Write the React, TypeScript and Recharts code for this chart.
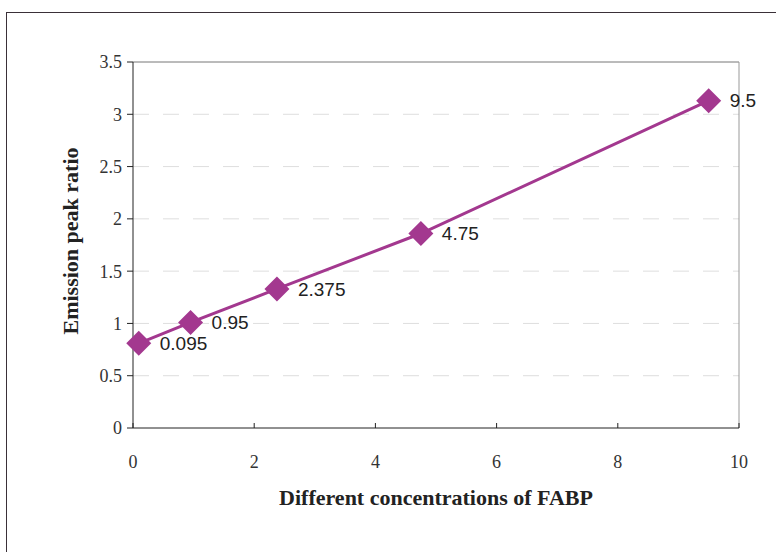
import React from "react";
import {
  LineChart,
  Line,
  XAxis,
  YAxis,
  ReferenceLine,
  LabelList,
  Label,
} from "recharts";

// FABP concentrations and the measured emission peak ratio
const concentrations = [0.095, 0.95, 2.375, 4.75, 9.5];
const peakRatios = [0.81, 1.01, 1.33, 1.86, 3.13];
const xTicks = [0, 2, 4, 6, 8, 10];
const yTicks = [0, 0.5, 1, 1.5, 2, 2.5, 3, 3.5];

const data = concentrations.map((c, i) => ({ x: c, y: peakRatios[i] }));

const PURPLE = "#a3388f";
const serif = "'Liberation Serif', 'Times New Roman', serif";
const sans = "'Liberation Sans', Arial, sans-serif";

const Diamond = (props: any) => {
  const { cx, cy } = props;
  if (cx == null || cy == null) return null;
  const r = 12.5;
  return (
    <polygon
      points={`${cx},${cy - r} ${cx + r},${cy} ${cx},${cy + r} ${cx - r},${cy}`}
      fill={PURPLE}
    />
  );
};

export default function App() {
  return (
    <div style={{ position: "absolute", left: 0, top: 0, width: 776, height: 552, background: "#fff" }}>
      <div
        style={{
          position: "absolute",
          left: 6,
          top: 12,
          width: 780,
          height: 560,
          borderTop: "1.5px solid #3a3038",
          borderLeft: "1.5px solid #3a3038",
        }}
      />
      <LineChart
        width={776}
        height={552}
        data={data}
        margin={{ top: 62, right: 37, bottom: 94, left: 53 }}
        style={{ position: "absolute", left: 0, top: 0 }}
      >
        {yTicks.slice(1, -1).map((t) => (
          <ReferenceLine key={t} y={t} stroke="#dedede" strokeDasharray="16 14" />
        ))}
        <XAxis
          type="number"
          dataKey="x"
          domain={[0, 10]}
          ticks={xTicks}
          height={30}
          stroke="#222"
          tickSize={-5}
          tickMargin={32}
          tick={{ fill: "#333", fontSize: 18, fontFamily: serif }}
        >
          <Label
            value="Different concentrations of FABP"
            position="center"
            dy={54}
            style={{ fontFamily: serif, fontWeight: "bold", fontSize: 22, fill: "#222" }}
          />
        </XAxis>
        <YAxis
          type="number"
          domain={[0, 3.5]}
          ticks={yTicks}
          width={80}
          stroke="#222"
          tickSize={6}
          tickMargin={5}
          tick={{ fill: "#333", fontSize: 18, fontFamily: serif }}
        >
          <Label
            value="Emission peak ratio"
            position="center"
            angle={-90}
            dx={-23}
            dy={-4}
            style={{ fontFamily: serif, fontWeight: "bold", fontSize: 22, fill: "#222", textAnchor: "middle" }}
          />
        </YAxis>
        <ReferenceLine y={3.5} stroke="#777" />
        <ReferenceLine x={10} stroke="#999" />
        <Line
          type="linear"
          dataKey="y"
          stroke={PURPLE}
          strokeWidth={3}
          dot={<Diamond />}
          activeDot={false}
          isAnimationActive={false}
        >
          <LabelList
            dataKey="x"
            position="right"
            offset={21}
            style={{ fill: "#222", fontSize: 19, fontFamily: sans }}
          />
        </Line>
      </LineChart>
    </div>
  );
}
